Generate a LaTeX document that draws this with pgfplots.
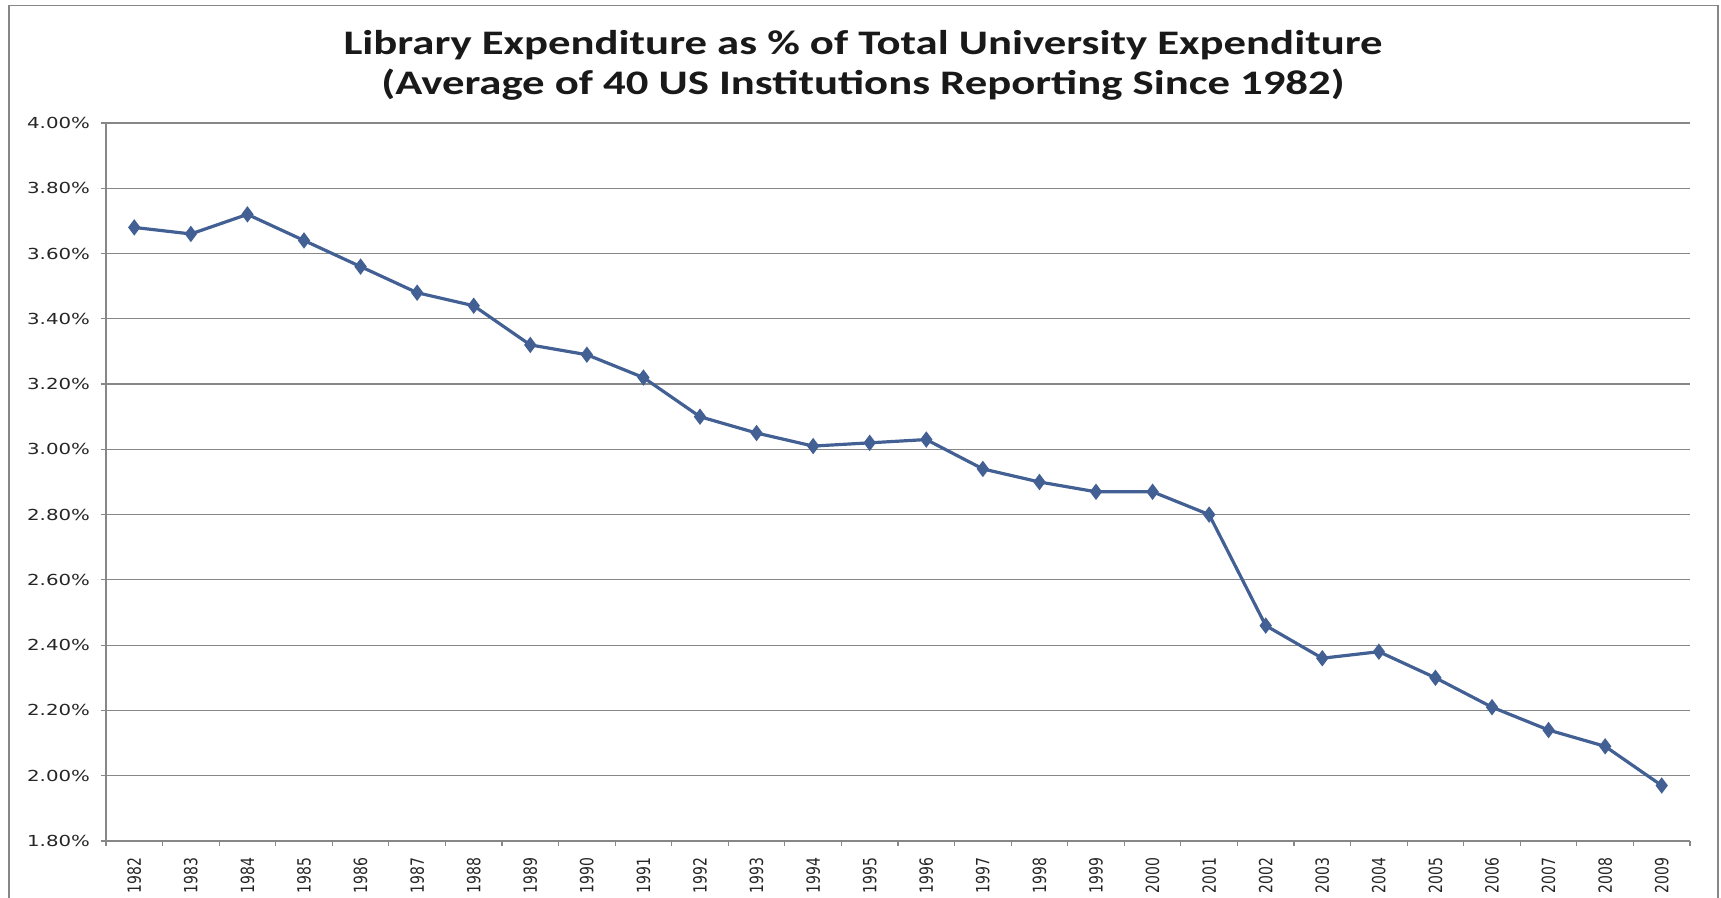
\documentclass[border=0pt]{standalone}
\usepackage{fontspec}
\usepackage{pgfplots}
\pgfplotsset{compat=1.18}
\newfontfamily\titlefont[FakeStretch=1.3]{Carlito}
\newfontfamily\tickfont[FakeStretch=1.3]{DejaVu Sans}
\newfontfamily\yearfont{DejaVu Sans}
\definecolor{lineblue}{RGB}{66,96,148}
\definecolor{gridgray}{RGB}{135,135,135}
\begin{document}
\begin{tikzpicture}
\useasboundingbox (-53pt,-28.5pt) rectangle (807.5pt,420.5pt);
\draw[gridgray, line width=0.6pt] (-48.5pt,-40pt) -- (-48.5pt,417.8pt) -- (806pt,417.8pt) -- (806pt,-40pt);
\node[font=\titlefont\bfseries\fontsize{17.2}{20}\selectfont, align=center, text=black!90] at (378.5pt,388pt)
 {Library Expenditure as \% of Total University Expenditure\\(Average of 40 US Institutions Reporting Since 1982)};
\begin{axis}[
 at={(0,0)}, anchor=south west,
 scale only axis, width=792pt, height=359pt,
 xmin=-0.5, xmax=27.5, ymin=1.8, ymax=4.0,
 axis lines*=left, axis line style={-, gridgray, line width=0.6pt},
 ytick={1.8,2.0,2.2,2.4,2.6,2.8,3.0,3.2,3.4,3.6,3.8,4.0},
 ymajorgrids, grid style={gridgray, line width=0.6pt},
 tick align=outside, major tick length=2.5pt, minor tick length=2.5pt,
 tick style={gridgray, line width=0.6pt},
 xtick={0,...,27},
 major x tick style={draw=none},
 minor xtick={-0.5,0.5,...,27.5},
 xticklabel={\pgfmathtruncatemacro\yr{1982+\tick}\scalebox{1}[1.3]{\yr}},
 xticklabel style={rotate=90, anchor=east, font=\yearfont\fontsize{7}{8}\selectfont, text=black!85},
 xticklabel shift=2.5pt,
 /pgf/number format/assume math mode=true,
 yticklabel={\pgfmathprintnumber[fixed,fixed zerofill,precision=2]{\tick}\%},
 yticklabel style={font=\tickfont\fontsize{7.6}{9}\selectfont, text=black!85},
 yticklabel shift=2pt,
 clip=false,
]
\addplot[lineblue, line width=1.6pt, mark=diamond*, mark size=2.8pt, mark options={fill=lineblue, solid}] coordinates {
(0,3.68) (1,3.66) (2,3.72) (3,3.64) (4,3.56) (5,3.48) (6,3.44) (7,3.32) (8,3.29) (9,3.22)
(10,3.10) (11,3.05) (12,3.01) (13,3.02) (14,3.03) (15,2.94) (16,2.90) (17,2.87) (18,2.87) (19,2.80)
(20,2.46) (21,2.36) (22,2.38) (23,2.30) (24,2.21) (25,2.14) (26,2.09) (27,1.97)
};
\end{axis}
\end{tikzpicture}
\end{document}
